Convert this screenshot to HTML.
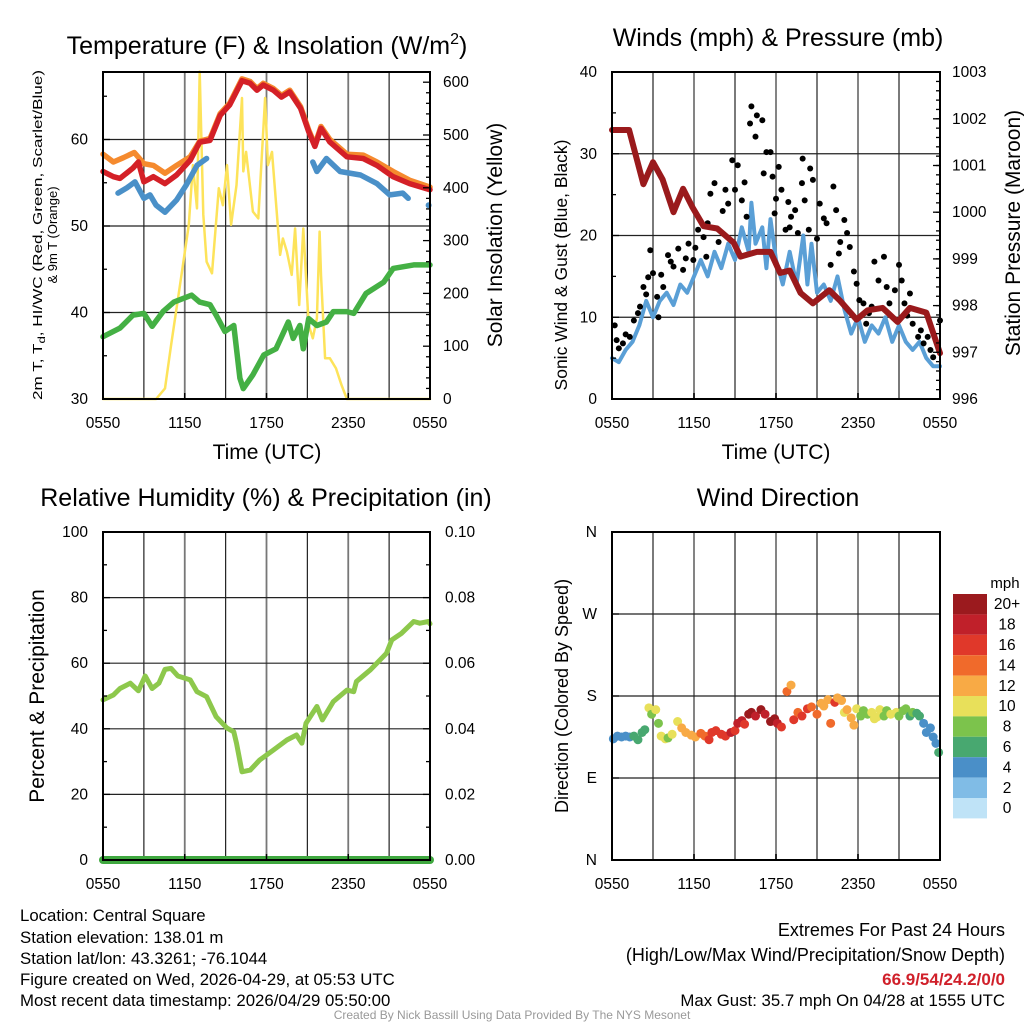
<!DOCTYPE html>
<html><head><meta charset="utf-8"><style>
html,body{margin:0;padding:0;background:#fff}
svg{display:block;font-family:"Liberation Sans",sans-serif}
</style></head><body>
<svg id="chart" width="1024" height="1024" viewBox="0 0 1024 1024" xmlns="http://www.w3.org/2000/svg">
<rect x="0" y="0" width="1024" height="1024" fill="#fff"/>
<g id="grid"></g>
<g id="marks"></g>
<g id="frames"></g>
<g id="labels" font-size="15" fill="#000">
 <text x="267" y="54" text-anchor="middle" font-size="25">Temperature (F) &amp; Insolation (W/m<tspan font-size="16" dy="-10">2</tspan><tspan dy="10">)</tspan></text>
 <text x="778" y="46" text-anchor="middle" font-size="25">Winds (mph) &amp; Pressure (mb)</text>
 <text x="266" y="506" text-anchor="middle" font-size="25">Relative Humidity (%) &amp; Precipitation (in)</text>
 <text x="778" y="506" text-anchor="middle" font-size="25">Wind Direction</text>
 <text x="267" y="459" text-anchor="middle" font-size="21">Time (UTC)</text>
 <text x="776" y="459" text-anchor="middle" font-size="21">Time (UTC)</text>
 <text transform="translate(42,235) rotate(-90)" text-anchor="middle" font-size="13" textLength="330" lengthAdjust="spacingAndGlyphs">2m T, T<tspan font-size="10" dy="3">d</tspan><tspan dy="-3">, HI/WC (Red, Green, Scarlet/Blue)</tspan></text>
 <text transform="translate(57,235) rotate(-90)" text-anchor="middle" font-size="13">&amp; 9m T (Orange)</text>
 <text transform="translate(502,235) rotate(-90)" text-anchor="middle" font-size="21">Solar Insolation (Yellow)</text>
 <text transform="translate(567,265) rotate(-90)" text-anchor="middle" font-size="17.5">Sonic Wind &amp; Gust (Blue, Black)</text>
 <text transform="translate(1020,233) rotate(-90)" text-anchor="middle" font-size="21">Station Pressure (Maroon)</text>
 <text transform="translate(44,696) rotate(-90)" text-anchor="middle" font-size="21">Percent &amp; Precipitation</text>
 <text transform="translate(568,696) rotate(-90)" text-anchor="middle" font-size="18">Direction (Colored By Speed)</text>
 <g font-size="16.8">
 <text x="20" y="921">Location: Central Square</text>
 <text x="20" y="943">Station elevation: 138.01 m</text>
 <text x="20" y="964">Station lat/lon: 43.3261; -76.1044</text>
 <text x="20" y="985">Figure created on Wed, 2026-04-29, at 05:53 UTC</text>
 <text x="20" y="1006">Most recent data timestamp: 2026/04/29 05:50:00</text>
 <text x="1005" y="936" text-anchor="end" font-size="18">Extremes For Past 24 Hours</text>
 <text x="1005" y="961" text-anchor="end" font-size="18">(High/Low/Max Wind/Precipitation/Snow Depth)</text>
 <text x="1005" y="985" text-anchor="end" fill="#d0202a" font-weight="bold" font-size="17">66.9/54/24.2/0/0</text>
 <text x="1005" y="1006" text-anchor="end" font-size="16.8">Max Gust: 35.7 mph On 04/28 at 1555 UTC</text>
 </g>
 <text x="512" y="1019" text-anchor="middle" font-size="12" fill="#999">Created By Nick Bassill Using Data Provided By The NYS Mesonet</text>
 <text x="1005" y="588" text-anchor="middle" font-size="15">mph</text>
</g>
</svg>
<script>
// ---------- data ----------
const xTickLabels = ["0550","1150","1750","2350","0550"];
const tempYTicks = [30,40,50,60];
const insolTicks = [0,100,200,300,400,500,600];
const windYTicks = [0,10,20,30,40];
const presTicks = [996,997,998,999,1000,1001,1002,1003];
const rhTicks = [0,20,40,60,80,100];
const precipTicks = ["0.00","0.02","0.04","0.06","0.08","0.10"];
const dirTickLabels = ["N","E","S","W","N"];
const speedBinLabels = ["0","2","4","6","8","10","12","14","16","18","20+"];

const tempHours = [0,0.76,1.25,2.2,2.6,3,3.7,4.55,5.4,6.4,7.1,7.85,8.6,9.3,10.2,10.8,11.3,11.76,12.5,13.1,13.7,14.5,15.1,15.55,16,16.65,17.9,19.1,20.1,21.3,22.5,24];
const tempValues = [56.3,55.7,55.5,56.7,57.4,55.1,55.7,54.9,55.9,57.6,59.7,59.9,62.8,64,66.8,66.5,65.7,66.3,65.7,64.9,65.5,63.6,60.9,59.2,61.3,59.7,58,57.8,57,55.7,54.9,54.2];
const t9Hours = [0,0.76,1.5,2.3,3,3.7,4.55,5.4,6.4,7.1,7.85,8.6,9.3,10.2,10.8,11.3,11.76,12.5,13.1,13.7,14.5,15.1,15.55,16,16.65,17.9,19.1,20.1,21.3,22.5,24];
const t9Values = [58.3,57.4,57.9,58.5,57.2,57,56.1,57,58,59.8,60.1,63,64.2,67,66.7,65.9,66.5,65.9,65.1,65.7,63.8,61.1,59.4,61.5,60,58.3,58.2,57.4,56.3,55.3,54.5];
const wcHours1 = [1.1,1.75,2.35,3,3.45,3.9,4.55,5.4,6.1,6.9,7.6];
const wcValues1 = [53.8,54.4,55.1,53.2,53.6,52.4,51.6,53,54.7,57,57.8];
const wcHours2 = [15.4,15.7,16.4,17.4,18.9,20.1,21.05,22,22.4];
const wcValues2 = [57.4,56.3,57.8,56.3,55.9,54.9,53.6,53.8,53.2];
const dewHours = [0,1.25,2.2,3,3.6,4.4,5.2,6.5,7.1,7.85,8.3,8.95,9.6,10.05,10.3,11,11.8,12.7,13.6,13.96,14.45,14.7,15.1,15.7,16.4,16.9,17.9,18.4,19.3,20.6,21.3,22.8,24];
const dewValues = [37.2,38.2,39.7,39.9,38.4,40.1,41.2,42,41.2,40.9,39.7,37.8,38.5,32.4,31.2,32.8,35.1,35.8,38.9,37,38.5,35.8,39.3,38.5,38.9,40.1,40.1,39.9,42.2,43.5,45.1,45.5,45.5];
const insolHours = [0,3.9,4.55,5,5.65,6.3,6.6,6.9,7.1,7.36,7.6,8,8.5,8.8,9.1,9.4,9.8,10.2,10.3,10.5,11,11.4,11.9,12.1,12.4,13,13.2,13.5,13.85,14.1,14.4,14.7,15.1,15.4,15.7,15.9,16,16.3,16.65,17.1,17.5,17.9,24];
const insolValues = [0,0,20,102,216,330,443,361,620,349,260,238,399,367,443,330,405,570,431,468,355,342,570,443,468,273,304,279,235,323,178,323,140,115,153,317,235,77,77,58,27,0,0];

const windHours = [0,0.5,1,1.5,2,2.5,3,3.5,4,4.5,5,5.5,6,6.5,7,7.5,8,8.5,9,9.5,10,10.2,10.5,11,11.3,11.6,12,12.5,13,13.5,14,14.3,14.6,15,15.5,16,16.5,17,17.5,18,18.5,19,19.5,20,20.5,21,21.5,22,22.5,23,23.5,24];
const windValues = [5,4.5,6,7,9,12,10,12,13,11.5,14,13,15,17,15,18,16,19,17,21,18,24,19,21,16,22,17,14,18,14,20,14,19,13,14,12,15,11,8,10,7,9,8,10,7,9,7,6,7,5,4,4];
const gustHours = [0.2,0.34,0.8,1.3,1.6,2.05,2.3,2.65,2.8,3,3.3,3.4,3.75,4.1,4.5,4.85,5.2,5.6,5.95,6.3,6.7,6.9,7.2,7.5,7.8,8.3,8.5,8.8,9,9.2,9.5,9.85,10.1,10.2,10.5,10.6,11,11.1,11.3,11.6,11.75,11.9,12.2,12.4,12.7,12.9,13.1,13.4,13.6,13.9,13.95,14.1,14.4,14.5,14.7,15,15.2,15.5,15.7,16,16.2,16.4,16.7,17,17.2,17.4,17.7,17.9,18.1,18.4,18.6,19,19.2,19.5,19.9,20.1,20.3,20.7,21,21.2,21.4,21.8,22,22.4,22.8,23.1,23.5,24,0.5,1.0,1.9,2.5,3.6,4.3,5.4,6.1,7.0,8.1,9.7,12.0,13.0,16.6,18.8,21.6,22.6,23.3];
const gustValues = [9,7.2,6.8,7.6,9.6,11.3,13.7,14.9,18.2,15.4,12.5,10,13.7,17.6,16.2,18.4,15.8,19,17,20.7,19.8,17.4,25.1,26.4,19.2,25.6,23.9,29.2,25.6,28.6,24.3,22.3,33.7,35.8,32.1,34.7,34.1,27.6,30.2,30.2,27.2,22.7,28.4,25.6,20.7,24.1,22.3,23.1,20.3,26.4,29.4,24.3,20.7,28.2,26.8,19.6,23.9,22.1,21.5,16.4,26,23.1,19.2,21.9,20.3,18.6,15.6,14.1,12.1,11.7,9.2,11.3,16.8,14.5,17.4,13.7,11.7,13.3,16.4,14.5,11.7,12.9,9.2,7.6,6.8,7.6,5.1,9.6,6.2,7.9,10.5,12.8,15.2,16.8,17.2,18.5,21.5,23.0,26.5,24.5,21.0,17.8,10.5,10.2,8.4,6.0];
const presHours = [0,1.25,2.3,3,3.7,4.5,5.2,5.9,6.7,7.7,8.9,9.4,10.6,11.6,12.3,13,13.8,14.7,15.9,16.7,17.9,18.7,19.8,20.9,21.8,23,24];
const presValues = [1001.76,1001.76,1000.6,1001.07,1000.7,1000.0,1000.5,1000.1,999.7,999.65,999.35,999.05,999.15,999.15,998.7,998.75,998.27,998.05,998.33,998.1,997.7,997.9,997.95,997.65,997.95,997.85,996.98];

const rhHours = [0,0.76,1.25,2,2.6,3.1,3.6,4.1,4.55,5,5.5,6.4,6.9,7.6,8.3,9.1,9.6,9.8,10.2,10.8,11.5,12.5,13.5,14.2,14.6,14.9,15.7,16.1,16.9,17.9,18.4,18.6,19.6,20.8,21.2,21.9,22.8,23.25,23.9,24];
const rhValues = [48.8,50.3,52.3,53.9,51.6,56.1,52.3,53.9,58.1,58.4,56.1,54.9,51.3,49.8,43.7,40.2,39.1,35.6,26.9,27.4,30.5,33.5,36.6,38.1,35.6,41.7,46.8,42.7,48.3,51.8,51.3,54.4,57.9,63,67.1,69.1,72.7,72.2,72.7,72];
const precipHours = [0,24];
const precipValues = [0,0];

const dirHours = [0.1,0.4,0.7,1.0,1.3,1.6,1.9,2.2,2.4,2.7,2.9,3.2,3.4,3.6,3.9,4.1,4.4,4.8,5.1,5.4,5.8,6.1,6.5,6.8,7.1,7.3,7.6,8.0,8.3,8.7,9.0,9.2,9.5,9.7,10.0,10.2,10.5,10.9,11.2,11.6,11.9,12.1,12.4,12.8,13.1,13.3,13.6,13.9,14.3,14.6,15.0,15.3,15.5,15.8,16.0,16.3,16.5,16.8,17.0,17.2,17.5,17.7,17.9,18.2,18.4,18.7,19.0,19.2,19.4,19.6,19.9,20.1,20.4,20.8,21.0,21.3,21.5,21.8,22.0,22.3,22.5,22.8,23.0,23.3,23.5,23.7,23.9];
const dirValues = [133,136,135,136,135,136,132,140,143,167,160,165,150,136,133,134,138,152,145,140,137,135,139,136,132,140,142,138,136,140,142,150,153,149,160,162,158,165,160,152,155,150,146,185,192,154,162,158,166,168,160,172,169,176,150,173,178,175,162,165,156,148,166,158,164,160,162,155,157,165,158,164,160,162,158,164,166,158,162,161,158,150,140,145,135,128,118];
const dirSpeeds = [4,4,4,5,4,6,6,7,7,10,9,10,8,10,10,9,11,10,12,13,12,13,14,15,16,17,16,16,17,18,17,19,18,17,20,20,19,21,19,20,21,18,17,14,12,16,14,17,16,15,14,13,13,12,15,16,12,13,10,12,12,12,11,8,9,9,10,10,10,11,8,8,10,10,8,9,8,7,8,6,6,4,4,4,4,5,6];

// ---------- helpers ----------
const NS = "http://www.w3.org/2000/svg";
const G = document.getElementById("grid"), M = document.getElementById("marks"), F = document.getElementById("frames"), L = document.getElementById("labels");
function mk(tag, attrs, parent){ const e=document.createElementNS(NS,tag); for(const k in attrs) e.setAttribute(k,attrs[k]); parent.appendChild(e); return e; }
function txt(parent,x,y,s,anchor,size){ const e=mk("text",{x:x,y:y,"text-anchor":anchor,"font-size":size||15},parent); e.textContent=s; return e; }

const panels = {
  temp:{x0:103,x1:430,y0:72,y1:399},
  wind:{x0:612,x1:940,y0:72,y1:399},
  rh:{x0:103,x1:430,y0:532,y1:860},
  dir:{x0:612,x1:940,y0:532,y1:860}
};
function xs(p){ return h => p.x0 + h*(p.x1-p.x0)/24; }
const xT = xs(panels.temp), xW = xs(panels.wind), xR = xs(panels.rh), xD = xs(panels.dir);
const yT = v => 399 - (v-30)*8.65;
const yI = v => 399 - v*0.528;
const yW = v => 399 - v*8.175;
const yP = v => 399 - (v-996)*46.7;
const yR = v => 860 - v*3.28;
const yPr = v => 860 - v*3280;
const yD = v => 860 - v/360*328;

for (const key in panels){
  const p = panels[key];
  for (let i=1;i<8;i++){
    const x = p.x0 + i*(p.x1-p.x0)/8;
    const gl = mk("line",{x1:x,x2:x,y1:p.y0,y2:p.y1,stroke:(i%2==0)?"#777":"#222","stroke-width":(i%2==0)?1.8:1.2},G);
    
    
  }
  const fr = mk("rect",{x:p.x0,y:p.y0,width:p.x1-p.x0,height:p.y1-p.y0,fill:"none",stroke:"#000","stroke-width":2},F);
  
  
  for (let i=0;i<xTickLabels.length;i++){
    const x = p.x0 + i*(p.x1-p.x0)/4;
    const t = txt(L,x,p.y1+29,xTickLabels[i],"middle",15.5);
    
    
    mk("line",{x1:x,x2:x,y1:p.y1,y2:p.y1-6,stroke:"#000","stroke-width":1.5},F);
  }
}
function hgrid(p,y){ const l=mk("line",{x1:p.x0,x2:p.x1,y1:y,y2:y,stroke:"#222","stroke-width":1.2},G);
  
   }
function tick(x,y,len){ mk("line",{x1:x,x2:x+len,y1:y,y2:y,stroke:"#000","stroke-width":1.3},F); }

tempYTicks.forEach(v=>{ const y=yT(v); if(v>30) hgrid(panels.temp,y); tick(103,y,7);
  const t=txt(L,88,y+5,String(v),"end",15.5);
  
   });
for (let v=35; v<=65; v+=10) tick(103,yT(v),4);
insolTicks.forEach(v=>{ const y=yI(v); tick(430,y,-7);
  const t=txt(L,443,y+5,String(v),"start",15.5);
  
   });
for (let v=20; v<=600; v+=20) if(v%100) tick(430,yI(v),-4);

windYTicks.forEach(v=>{ const y=yW(v); if(v>0&&v<40) hgrid(panels.wind,y); tick(612,y,7);
  const t=txt(L,597,y+5,String(v),"end",15.5);
  
   });
for (let v=5; v<40; v+=10) tick(612,yW(v),4);
presTicks.forEach(v=>{ const y=yP(v); tick(940,y,-7);
  const t=txt(L,952,y+5,String(v),"start",15.5);
  
   });
for (let v=996.2; v<1003; v+=0.2) tick(940,yP(v),-4);

rhTicks.forEach((v,i)=>{ const y=yR(v); if(v>0&&v<100) hgrid(panels.rh,y); tick(103,y,7); tick(430,y,-7);
  const t=txt(L,88,y+5,String(v),"end",15.5);
  
  
  const t2=txt(L,445,y+5,precipTicks[i],"start",15.5);
  
   });
for (let v=10; v<100; v+=20){ tick(103,yR(v),4); tick(430,yR(v),-4); }

dirTickLabels.forEach((s,i)=>{ const y=yD(i*90); if(i>0&&i<4) hgrid(panels.dir,y); tick(612,y,7);
  const t=txt(L,597,y+5,s,"end",15.5);
  
   });

// ---------- series ----------
function line(hours, vals, xf, yf, color, w, name){
  const pts = hours.map((h,i)=>xf(h).toFixed(1)+","+yf(vals[i]).toFixed(1)).join(" ");
  const pl = mk("polyline",{points:pts,fill:"none",stroke:color,"stroke-width":w,"stroke-linejoin":"round","stroke-linecap":"round"},M);
  
  
}
line(insolHours,insolValues,xT,yI,"#fde35a",2.5,"insolation-line");
line(dewHours,dewValues,xT,yT,"#44b044",5.5,"dewpoint-line");
line(t9Hours,t9Values,xT,yT,"#f58a2e",5.5,"temp-9m-line");
line(tempHours,tempValues,xT,yT,"#d42027",5.5,"temp-2m-line");
line(wcHours1,wcValues1,xT,yT,"#4a90c8",5.5,"wind-chill-line-early");
line(wcHours2,wcValues2,xT,yT,"#4a90c8",5.5,"wind-chill-line-late");
(function(){ const c=mk("circle",{cx:xT(23.9),cy:yT(52.4),r:3,fill:"#4a90c8"},M);
  
   })();

line(windHours,windValues,xW,yW,"#5a9fd6",4,"sonic-wind-line");
gustHours.forEach((h,i)=>{
  const c=mk("circle",{cx:xW(h),cy:yW(gustValues[i]),r:3,fill:"#000"},M);
  
  
});
line(presHours,presValues,xW,yP,"#9a1a1c",6,"pressure-line");

line(rhHours,rhValues,xR,yR,"#8dc84c",5,"rh-line");
line(precipHours,precipValues,xR,yPr,"#3fa83f",8,"precip-line");

const binColors = ["#bfe3f7","#80bce6","#4a8fc8","#48a870","#7cc34c","#e8e05a","#f8aa45","#f06a2b","#e0382a","#c0202a","#9b1a1e"];
dirHours.forEach((h,i)=>{
  const b=Math.min(10,Math.floor(dirSpeeds[i]/2));
  const c=mk("circle",{cx:xD(h),cy:yD(dirValues[i]),r:4.5,fill:binColors[b]},M);
  
  
});
const cbTop=594, cbH=20.4;
speedBinLabels.forEach((s,i)=>{
  const idx=10-i, y=cbTop+i*cbH;
  const r=mk("rect",{x:953,y:y,width:34,height:cbH,fill:binColors[idx]},M);
  
  
  const t=txt(L,1007,y+cbH/2+5,speedBinLabels[idx],"middle",15.5);
  
  
});
</script>
</body></html>
